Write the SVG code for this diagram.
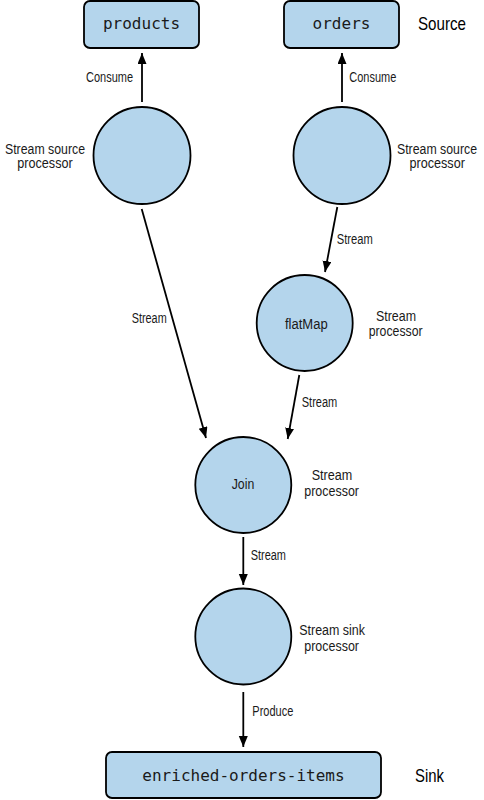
<svg xmlns="http://www.w3.org/2000/svg" width="484" height="800" viewBox="0 0 484 800">
<style>
.box{fill:#b4d5ec;stroke:#000;stroke-width:1.8}
.node{fill:#b4d5ec;stroke:#000;stroke-width:1.8}
.mono{font-family:"DejaVu Sans Mono","Liberation Mono",monospace;font-size:16px;fill:#1a1a1a;text-anchor:middle}
.lbl{font-family:"Liberation Sans",Arial,sans-serif;font-size:14px;fill:#1a1a1a}
.big{font-family:"Liberation Sans",Arial,sans-serif;font-size:18.5px;fill:#000}
.edge{stroke:#000;stroke-width:1.8;fill:none;marker-end:url(#ah)}
</style>
<defs>
<marker id="ah" markerUnits="userSpaceOnUse" markerWidth="12" markerHeight="10" refX="11" refY="4.5" orient="auto">
<path d="M0,0 L11,4.5 L0,9 z" fill="#000"/>
</marker>
</defs>
<rect width="484" height="800" fill="#fff"/>

<g id="connectors">
<line class="edge" x1="142" y1="102" x2="142" y2="53"/>
<line class="edge" x1="342" y1="102" x2="342" y2="53"/>
<line class="edge" x1="141.7" y1="209" x2="206" y2="438"/>
<line class="edge" x1="337.3" y1="207" x2="325" y2="272"/>
<line class="edge" x1="299.3" y1="375" x2="287.7" y2="439"/>
<line class="edge" x1="243.3" y1="537" x2="243.3" y2="585"/>
<line class="edge" x1="243.3" y1="692" x2="243.3" y2="747"/>
<text class="lbl" x="86" y="82" textLength="47" lengthAdjust="spacingAndGlyphs">Consume</text>
<text class="lbl" x="349.3" y="82" textLength="47" lengthAdjust="spacingAndGlyphs">Consume</text>
<text class="lbl" x="336.7" y="244" textLength="36" lengthAdjust="spacingAndGlyphs">Stream</text>
<text class="lbl" x="131.7" y="323" textLength="35" lengthAdjust="spacingAndGlyphs">Stream</text>
<text class="lbl" x="301.7" y="407.3" textLength="35.6" lengthAdjust="spacingAndGlyphs">Stream</text>
<text class="lbl" x="250.7" y="560" textLength="35.3" lengthAdjust="spacingAndGlyphs">Stream</text>
<text class="lbl" x="252.3" y="716" textLength="41" lengthAdjust="spacingAndGlyphs">Produce</text>
</g>

<g id="products">
<rect class="box" x="84" y="1" width="115" height="47" rx="6"/>
<text class="mono" x="141.5" y="29">products</text>
</g>
<g id="orders">
<rect class="box" x="284" y="1" width="115" height="47" rx="6"/>
<text class="mono" x="341.5" y="29">orders</text>
</g>
<g id="source-label">
<text class="big" x="418" y="30" textLength="48" lengthAdjust="spacingAndGlyphs">Source</text>
</g>

<g id="source-processor-left">
<circle class="node" cx="142" cy="155.5" r="48.5"/>
<text class="lbl" x="5" y="153.5" textLength="80" lengthAdjust="spacingAndGlyphs">Stream source</text>
<text class="lbl" x="17.3" y="167.5" textLength="55.4" lengthAdjust="spacingAndGlyphs">processor</text>
</g>
<g id="source-processor-right">
<circle class="node" cx="342" cy="155.5" r="48.5"/>
<text class="lbl" x="397" y="153.5" textLength="80" lengthAdjust="spacingAndGlyphs">Stream source</text>
<text class="lbl" x="409.5" y="167.5" textLength="55.4" lengthAdjust="spacingAndGlyphs">processor</text>
</g>
<g id="flatMap">
<circle class="node" cx="304.7" cy="323" r="48"/>
<text class="lbl" x="285" y="329.3" textLength="42.7" lengthAdjust="spacingAndGlyphs">flatMap</text>
<text class="lbl" x="376" y="320.7" textLength="40" lengthAdjust="spacingAndGlyphs">Stream</text>
<text class="lbl" x="368.7" y="335.5" textLength="54" lengthAdjust="spacingAndGlyphs">processor</text>
</g>
<g id="join">
<circle class="node" cx="243.3" cy="485" r="48"/>
<text class="lbl" x="231.7" y="489.3" textLength="22.6" lengthAdjust="spacingAndGlyphs">Join</text>
<text class="lbl" x="311.7" y="480" textLength="40.6" lengthAdjust="spacingAndGlyphs">Stream</text>
<text class="lbl" x="304.3" y="495.5" textLength="54.7" lengthAdjust="spacingAndGlyphs">processor</text>
</g>
<g id="sink-processor">
<circle class="node" cx="243.3" cy="636.5" r="48"/>
<text class="lbl" x="299.3" y="635" textLength="65.7" lengthAdjust="spacingAndGlyphs">Stream sink</text>
<text class="lbl" x="304.3" y="650.5" textLength="54.7" lengthAdjust="spacingAndGlyphs">processor</text>
</g>
<g id="enriched-orders-items">
<rect class="box" x="106" y="752" width="275" height="46" rx="6"/>
<text class="mono" x="243.5" y="781">enriched-orders-items</text>
</g>
<g id="sink-label">
<text class="big" x="415" y="781.5" textLength="29" lengthAdjust="spacingAndGlyphs">Sink</text>
</g>
</svg>
